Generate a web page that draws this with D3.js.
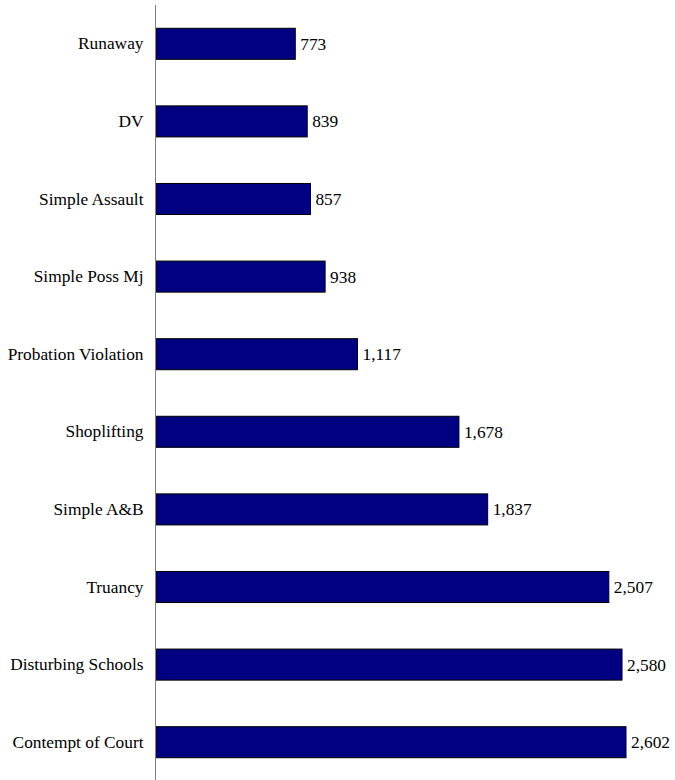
<!DOCTYPE html>
<html>
<head>
<meta charset="utf-8">
<script src="https://cdn.jsdelivr.net/npm/d3@7"></script>
<style>
  html, body { margin: 0; padding: 0; background: #fff; }
  svg { display: block; }
  svg text { font-family: "Liberation Serif", "DejaVu Serif", serif; }
</style>
</head>
<body>
<svg id="chart" width="675" height="780"></svg>
<script>
const categories = ["Runaway", "DV", "Simple Assault", "Simple Poss Mj", "Probation Violation",
  "Shoplifting", "Simple A&B", "Truancy", "Disturbing Schools", "Contempt of Court"];
const counts = [773, 839, 857, 938, 1117, 1678, 1837, 2507, 2580, 2602];

const svg = d3.select("#chart");
const axisX = 155.5;
const x = d3.scaleLinear().domain([0, 3000]).range([axisX, axisX + 3000 * (470.5 / 2602)]);
const y = d3.scaleBand().domain(categories).range([5, 781]).paddingInner(0.6).paddingOuter(0.3);

const fmt = d3.format(",");
const FONT = '"Liberation Serif", "DejaVu Serif", serif';
const SIZE = "17.33px";

svg.append("g").selectAll("rect")
  .data(categories)
  .join("rect")
  .attr("x", axisX)
  .attr("y", d => y(d))
  .attr("width", (d, i) => x(counts[i]) - axisX)
  .attr("height", y.bandwidth())
  .attr("fill", "#000080")
  .attr("stroke", "#000")
  .attr("stroke-width", 1);

svg.append("g").selectAll("text")
  .data(categories)
  .join("text")
  .attr("x", (d, i) => x(counts[i]) + 5)
  .attr("y", d => y(d) + y.bandwidth() / 2)
  .attr("dy", "0.35em")
  .style("font-family", FONT)
  .style("font-size", SIZE)
  .attr("fill", "#000")
  .text((d, i) => fmt(counts[i]));

const axis = d3.axisLeft(y).tickSize(0).tickPadding(12);
const g = svg.append("g").attr("transform", `translate(${axisX},0)`).call(axis);
g.attr("font-family", null).attr("font-size", null);
g.select(".domain").attr("stroke", "#808080").attr("d", "M0,5V781");
g.selectAll("text")
  .style("font-family", FONT)
  .style("font-size", SIZE)
  .attr("fill", "#000");
</script>
</body>
</html>
